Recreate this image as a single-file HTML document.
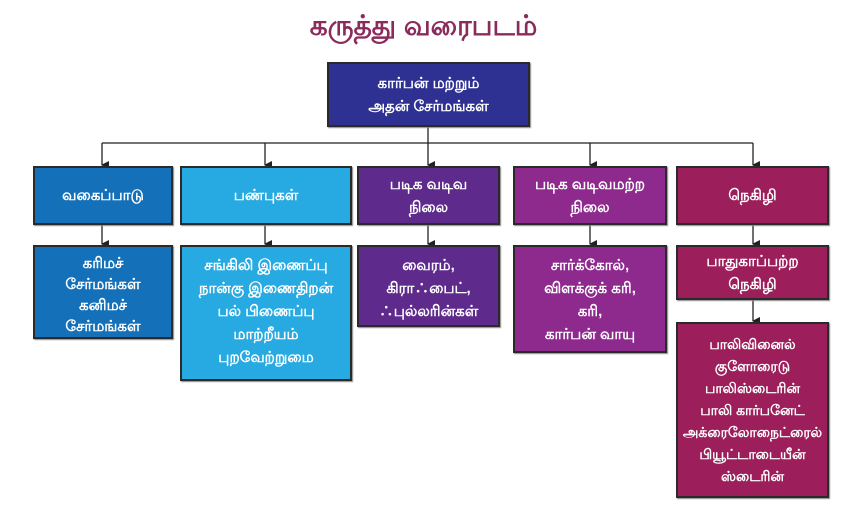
<!DOCTYPE html>
<html><head><meta charset="utf-8"><style>
body{margin:0;width:847px;height:522px;background:#fff;position:relative;overflow:hidden;font-family:"Liberation Sans","Noto Sans CJK SC",sans-serif}
.t{position:absolute;left:0;width:847px;top:10px;text-align:center;font-size:28px;font-weight:bold;color:#8a2b5c}
.b{position:absolute;box-sizing:border-box;border:2px solid #2a2a2a;color:#fff;font-size:15px;font-weight:bold;display:flex;align-items:center;justify-content:center;text-align:center;line-height:23px;box-shadow:1px 1px 1px #888}
.c1{background:#1470b8}.c2{background:#27aae1}.c3{background:#5e2a8c}.c4{background:#8e2a8e}.c5{background:#9c1f5b}
.top{align-items:flex-start;padding-top:7px}
svg{position:absolute;left:0;top:0}
</style></head><body>
<div class="t">கருத்து வரைபடம்</div>
<svg width="847" height="522">
<defs><marker id="a" markerWidth="8" markerHeight="8" refX="4" refY="7" orient="auto" markerUnits="userSpaceOnUse"><path d="M0,0 L8,0 L4,8z" fill="#222"/></marker></defs>
<g stroke="#222" stroke-width="1.3" fill="none">
<line x1="428" y1="127" x2="428" y2="165" marker-end="url(#a)"/>
<line x1="102" y1="143" x2="753" y2="143"/>
<line x1="102" y1="143" x2="102" y2="165" marker-end="url(#a)"/>
<line x1="265" y1="143" x2="265" y2="165" marker-end="url(#a)"/>
<line x1="590" y1="143" x2="590" y2="165" marker-end="url(#a)"/>
<line x1="753" y1="143" x2="753" y2="165" marker-end="url(#a)"/>
<line x1="102" y1="225" x2="102" y2="244" marker-end="url(#a)"/>
<line x1="265" y1="225" x2="265" y2="244" marker-end="url(#a)"/>
<line x1="428" y1="225" x2="428" y2="244" marker-end="url(#a)"/>
<line x1="590" y1="225" x2="590" y2="244" marker-end="url(#a)"/>
<line x1="753" y1="225" x2="753" y2="244" marker-end="url(#a)"/>
<line x1="753" y1="300" x2="753" y2="321" marker-end="url(#a)"/>
</g></svg>
<div class="b" style="left:327px;top:62px;width:203px;height:65px;background:#2e3192">கார்பன் மற்றும்<br>அதன் சேர்மங்கள்</div>
<div class="b c1" style="left:33px;top:166px;width:140px;height:59px">வகைப்பாடு</div>
<div class="b c2" style="left:180px;top:166px;width:172px;height:59px">பண்புகள்</div>
<div class="b c3" style="left:357px;top:166px;width:143px;height:59px">படிக வடிவ<br>நிலை</div>
<div class="b c4" style="left:513px;top:166px;width:154px;height:59px">படிக வடிவமற்ற<br>நிலை</div>
<div class="b c5" style="left:676px;top:166px;width:153px;height:59px">நெகிழி</div>
<div class="b c1 top" style="left:33px;top:245px;width:140px;height:94px;line-height:21px;padding-top:6px">கரிமச்<br>சேர்மங்கள்<br>கனிமச்<br>சேர்மங்கள்</div>
<div class="b c2 top" style="left:180px;top:245px;width:172px;height:136px">சங்கிலி இணைப்பு<br>நான்கு இணைதிறன்<br>பல் பிணைப்பு<br>மாற்றீயம்<br>புறவேற்றுமை</div>
<div class="b c3 top" style="left:357px;top:245px;width:143px;height:82px">வைரம்,<br>கிரா∴பைட்,<br>∴புல்லரின்கள்</div>
<div class="b c4 top" style="left:513px;top:245px;width:154px;height:108px">சார்க்கோல்,<br>விளக்குக் கரி,<br>கரி,<br>கார்பன் வாயு</div>
<div class="b c5" style="left:676px;top:245px;width:153px;height:55px">பாதுகாப்பற்ற<br>நெகிழி</div>
<div class="b c5" style="left:676px;top:322px;width:153px;height:176px;font-size:14px;line-height:22px">பாலிவினைல்<br>குளோரைடு<br>பாலிஸ்டைரின்<br>பாலி கார்பனேட்<br>அக்ரைலோநைட்ரைல்<br>பியூட்டாடையீன்<br>ஸ்டைரின்</div>
</body></html>
